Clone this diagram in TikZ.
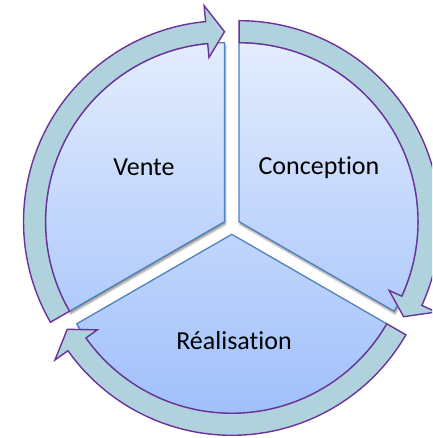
\documentclass[tikz,border=0pt]{standalone}
\usepackage{fontspec}
\setmainfont{Carlito}[Ligatures={NoCommon}]
\usetikzlibrary{shadows.blur}
\definecolor{segtop}{RGB}{228,237,253}
\definecolor{segbot}{RGB}{156,189,250}
\definecolor{segline}{RGB}{79,129,189}
\definecolor{ringfill}{RGB}{176,210,220}
\definecolor{ringline}{RGB}{108,50,155}

\begin{document}
\begin{tikzpicture}[x=1pt,y=1pt]
    \tikzstyle{every node}=[font=\fontsize{26}{30}\selectfont, text=black, inner sep=0pt]
    \tikzstyle{segment}=[draw=segline, line width=1.3pt, line join=miter,
        blur shadow={shadow xshift=1pt, shadow yshift=-2.5pt, shadow blur steps=6, shadow opacity=45},
        path picture={\shade[top color=segtop, bottom color=segbot] (0,22) rectangle (440,400);}]
    \tikzstyle{ring}=[fill=ringfill, draw=ringline, line width=1.4pt, line join=miter]

    \useasboundingbox (0,0) rectangle (432,438);
    \clip (0,0) rectangle (432,438);

    \coordinate (c) at (231.8,212.1);
    \coordinate (cC) at ([shift={(30:8.4)}]c);
    \coordinate (cR) at ([shift={(-90:8.4)}]c);
    \coordinate (cV) at ([shift={(150:8.4)}]c);

    % segments
    \path[segment] (cC) -- ([shift={(90:179)}]cC) arc[start angle=90, end angle=-30, radius=179] -- cycle;
    \path[segment] (cR) -- ([shift={(-30:179)}]cR) arc[start angle=-30, end angle=-150, radius=179] -- cycle;
    \path[segment] (cV) -- ([shift={(210:179)}]cV) arc[start angle=210, end angle=90, radius=179] -- cycle;

    % arrows round the circle
    \draw[ring] ([shift={(90:201)}]cC) arc[start angle=90, end angle=-24.6, radius=201]
        -- ([shift={(-24.6:217)}]cC) -- ([shift={(-30:190)}]cC) -- ([shift={(-24.6:165)}]cC)
        -- ([shift={(-24.6:179)}]cC) arc[start angle=-24.6, end angle=90, radius=179] -- cycle;
    \draw[ring] ([shift={(-30:201)}]cR) arc[start angle=-30, end angle=-144.6, radius=201]
        -- ([shift={(-144.6:217)}]cR) -- ([shift={(-150:190)}]cR) -- ([shift={(-144.6:165)}]cR)
        -- ([shift={(-144.6:179)}]cR) arc[start angle=-144.6, end angle=-30, radius=179] -- cycle;
    \draw[ring] ([shift={(210:201)}]cV) arc[start angle=210, end angle=95.4, radius=201]
        -- ([shift={(95.4:217)}]cV) -- ([shift={(90:190)}]cV) -- ([shift={(95.4:165)}]cV)
        -- ([shift={(95.4:179)}]cV) arc[start angle=95.4, end angle=210, radius=179] -- cycle;

    \node[anchor=base] (vente) at (144,262) {Vente};
    \node[anchor=base] (conception) at (319,263) {Conception};
    \node[anchor=base] (realisation) at (234,88) {Réalisation};
\end{tikzpicture}
\end{document}
